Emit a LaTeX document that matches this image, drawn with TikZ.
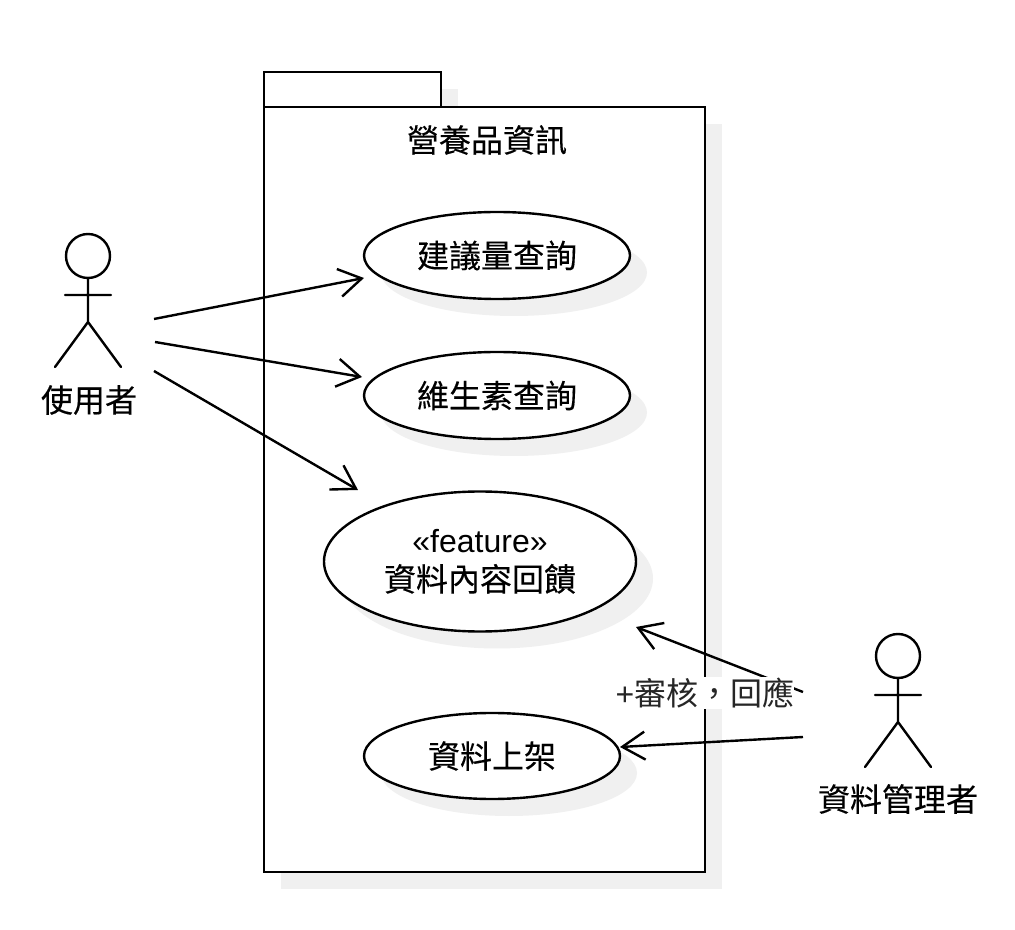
\documentclass[tikz,border=0pt]{standalone}
\usepackage{fontspec}
\setmainfont{Liberation Sans}
\newfontfamily\cjk[FakeBold=0.3]{Noto Sans CJK TC}
\newfontfamily\cjklabel{Noto Sans CJK TC}
\usetikzlibrary{arrows.meta,shapes.geometric}
\definecolor{shade}{gray}{0.94}
\tikzset{
  every node/.style={inner sep=0pt,outer sep=0pt},
  pkg/.style={draw=black,line width=1.9pt,fill=white},
  usecase/.style={ellipse,draw=black,line width=1.8pt,fill=white,align=center,font=\fontsize{24}{28}\selectfont},
  shadowfill/.style={fill=shade,draw=none},
  lbl/.style={font=\cjk\fontsize{24}{28}\selectfont,align=center},
  assoc/.style={line width=1.8pt,-{Straight Barb[length=17pt,width=21pt,line width=1.8pt]}},
  stick/.style={line width=1.8pt,line cap=round},
}
\newcommand{\usecaseat}[6]{%
  \fill[shadowfill] (#1+17,#2+17) ellipse [x radius=#3/2,y radius=#4/2];
  \node[usecase,minimum width=#3*0.75pt,minimum height=#4*0.75pt] (#5) at (#1,#2) {#6};
}
\begin{document}
\begin{tikzpicture}[x=0.75pt,y=-0.75pt]
\useasboundingbox (0,0) rectangle (1015,930);
\fill[white] (0,0) rectangle (1015,930);
% package shadows
\fill[shadowfill] (281,89) rectangle (458,124);
\fill[shadowfill] (281,124) rectangle (722,889);
% package
\draw[pkg] (264,72) rectangle (441,107);
\node[pkg,minimum width=441*0.75pt,minimum height=765*0.75pt] (pack) at (484.5,489.5) {};
\node[lbl] (title) at (487,140) {營養品資訊};
% use cases
\usecaseat{497}{255.5}{266}{87}{uca}{\cjk 建議量查詢}
\usecaseat{497}{395.5}{266}{87}{ucb}{\cjk 維生素查詢}
\usecaseat{480}{561.5}{312}{140}{ucc}{«feature»\\[1pt]\cjk 資料內容回饋}
\usecaseat{492}{756}{256}{86}{ucd}{\cjk 資料上架}
% actors
\draw[stick] (88,256) circle [radius=22];
\draw[stick] (88,278) -- (88,322) (65,295) -- (111,295) (55,367) -- (88,322) -- (121,367);
\node[lbl] (user) at (89,400) {使用者};
\draw[stick] (898,656) circle [radius=22];
\draw[stick] (898,678) -- (898,722) (875,695) -- (921,695) (865,767) -- (898,722) -- (931,767);
\node[lbl] (admin) at (898,799) {資料管理者};
% connector ends
\coordinate (u1) at (154,319);
\coordinate (u2) at (155,342);
\coordinate (u3) at (154,371);
\coordinate (a1) at (803,692);
\coordinate (a2) at (803,737);
\coordinate (ta) at (364,278);
\coordinate (tb) at (362,377);
\coordinate (tc) at (358,490);
\coordinate (td) at (636,627);
\coordinate (te) at (620,747);
\draw[assoc] (u1) -- (ta);
\draw[assoc] (u2) -- (tb);
\draw[assoc] (u3) -- (tc);
\draw[assoc] (a1) -- (td);
\draw[assoc] (a2) -- (te);
\node[fill=white,minimum height=32*0.75pt,font=\fontsize{24}{28}\selectfont,text=black!85] (lab) at (705,693) {+\cjklabel 審核^^^^ff0c回應};
\end{tikzpicture}
\end{document}
